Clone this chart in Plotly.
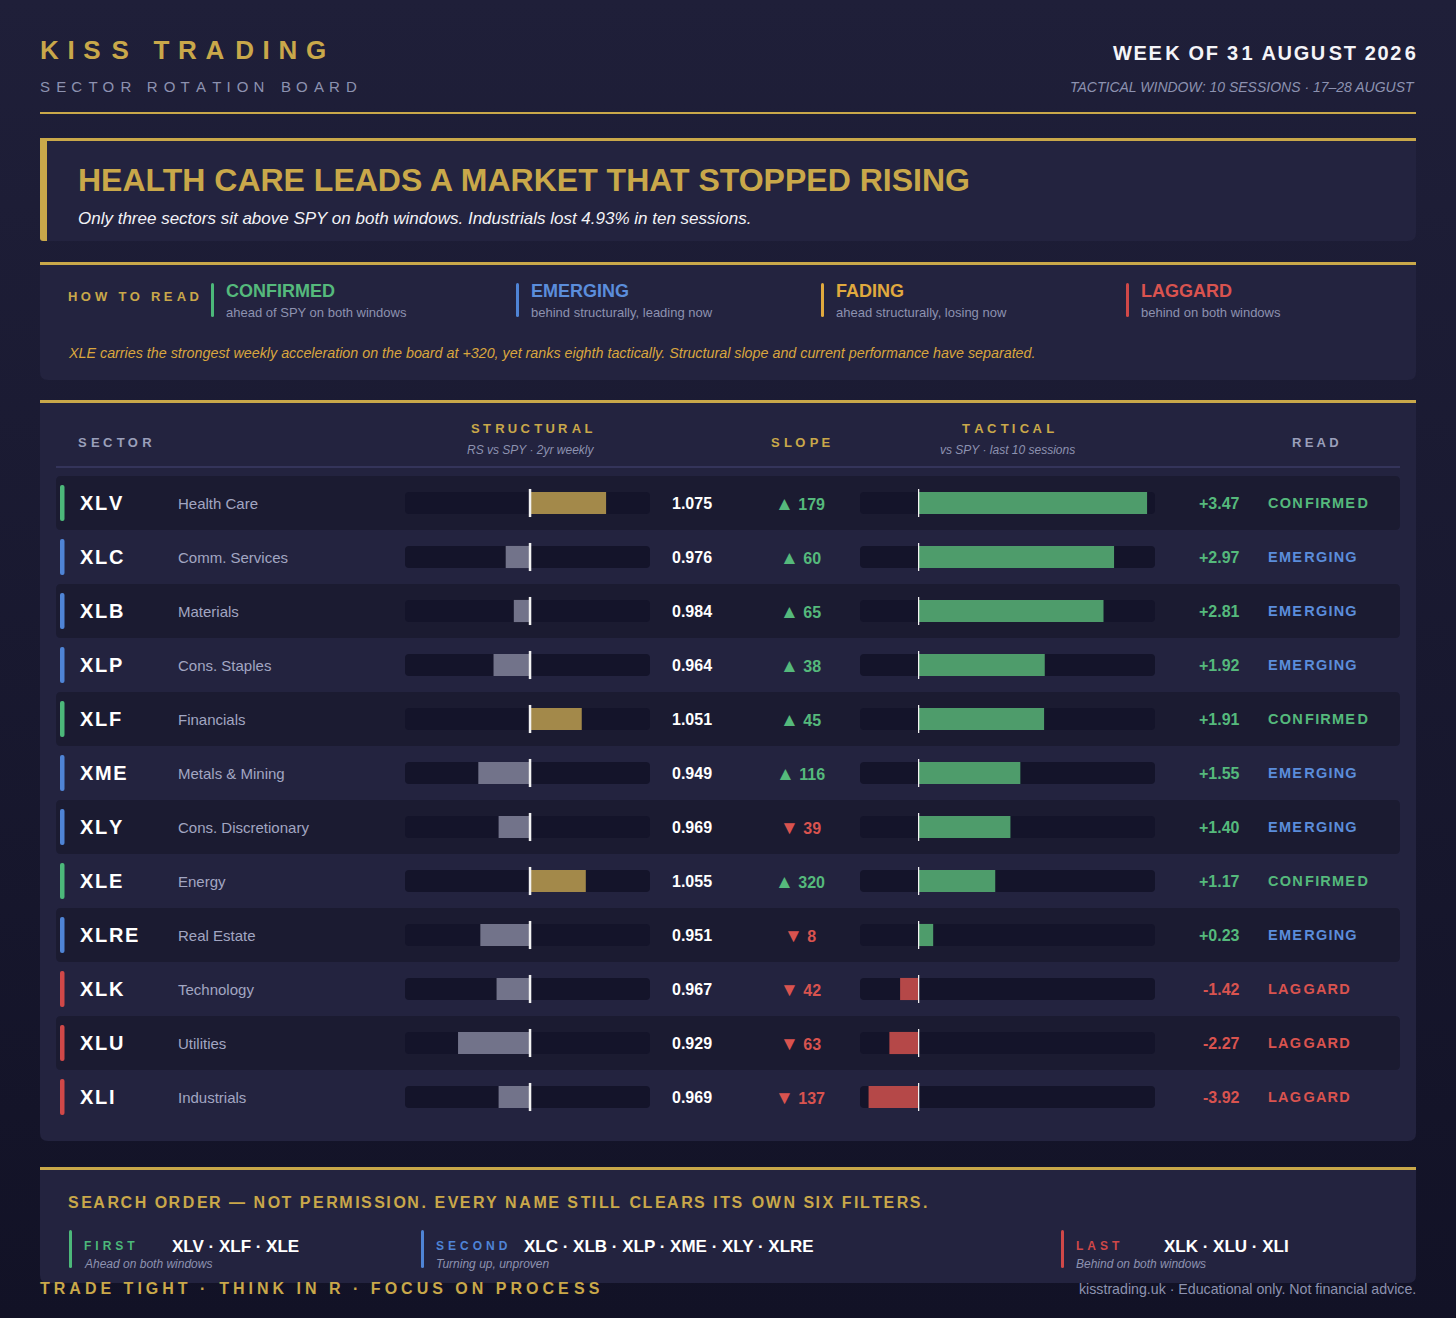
"""
Sector rotation board - KISS Trading
Plotly ile tek sayfalik tablo-grafik
"""

import base64
import plotly.graph_objects as go

# ---- veri ----
tickers = ["XLV", "XLC", "XLB", "XLP", "XLF", "XME", "XLY", "XLE", "XLRE", "XLK", "XLU", "XLI"]
names = ["Health Care", "Comm. Services", "Materials", "Cons. Staples", "Financials",
         "Metals & Mining", "Cons. Discretionary", "Energy", "Real Estate", "Technology",
         "Utilities", "Industrials"]
structural = [1.075, 0.976, 0.984, 0.964, 1.051, 0.949, 0.969, 1.055, 0.951, 0.967, 0.929, 0.969]
slope = [179, 60, 65, 38, 45, 116, -39, 320, -8, -42, -63, -137]
tactical = [3.47, 2.97, 2.81, 1.92, 1.91, 1.55, 1.40, 1.17, 0.23, -1.42, -2.27, -3.92]
reads = ["CONFIRMED", "EMERGING", "EMERGING", "EMERGING", "CONFIRMED", "EMERGING",
         "EMERGING", "CONFIRMED", "EMERGING", "LAGGARD", "LAGGARD", "LAGGARD"]

legend_titles = ["CONFIRMED", "EMERGING", "FADING", "LAGGARD"]
legend_notes = ["ahead of SPY on both windows", "behind structurally, leading now",
                "ahead structurally, losing now", "behind on both windows"]

search_groups = ["FIRST", "SECOND", "LAST"]
search_names = ["XLV · XLF · XLE", "XLC · XLB · XLP · XME · XLY · XLRE", "XLK · XLU · XLI"]
search_notes = ["Ahead on both windows", "Turning up, unproven", "Behind on both windows"]

# ---- stil ----
W, H = 1456, 1318
FONT = "Liberation Sans, Arial, sans-serif"
GOLD = "#c9a84a"
GOLD_BAR = "#a3894a"
PANEL = "#23233f"
ROW_DARK = "#1b1b31"
TRACK = "#14142a"
GREY_TXT = "#8d92b0"
NAME_TXT = "#a2a6c2"
GREY_BAR = "#72738a"
GREEN_BAR = "#4e9c6b"
RED_BAR = "#b54848"
READ_COLORS = {"CONFIRMED": "#55b97c", "EMERGING": "#5b8ddb", "FADING": "#e0a93e", "LAGGARD": "#d9534f"}
ACCENT = {"CONFIRMED": "#4cb87a", "EMERGING": "#4f84d6", "FADING": "#e0a93e", "LAGGARD": "#d04848"}
GROUP_COLORS = ["#4cb87a", "#4f84d6", "#d04848"]

ROW_TOP, ROW_H = 476, 54
HAIR = "\u200a"


def px(x):
    return x / W


def py(y):
    return 1 - y / H


def spaced(s, ls, size):
    # harf araligi: hair space ~ 1/12 em, araliklara dagitilir
    k = ls * 12 / size
    out = s[0]
    for i, ch in enumerate(s[1:]):
        n = round((i + 1) * k) - round(i * k)
        out += HAIR * n + ch
    return out


def rrect(x0, y0, x1, y1, r=(6, 6, 6, 6), color=PANEL, layer="below"):
    tl, tr, br, bl = r
    p = (f"M {px(x0 + tl)},{py(y0)} L {px(x1 - tr)},{py(y0)} "
         f"Q {px(x1)},{py(y0)} {px(x1)},{py(y0 + tr)} L {px(x1)},{py(y1 - br)} "
         f"Q {px(x1)},{py(y1)} {px(x1 - br)},{py(y1)} L {px(x0 + bl)},{py(y1)} "
         f"Q {px(x0)},{py(y1)} {px(x0)},{py(y1 - bl)} L {px(x0)},{py(y0 + tl)} "
         f"Q {px(x0)},{py(y0)} {px(x0 + tl)},{py(y0)} Z")
    return dict(type="path", path=p, xref="paper", yref="paper", fillcolor=color,
                line=dict(width=0), layer=layer)


def txt(x, y, s, size, color, bold=False, italic=False, anchor="left", yref="paper"):
    if bold:
        s = f"<b>{s}</b>"
    if italic:
        s = f"<i>{s}</i>"
    shift = {"left": -2, "right": 2, "center": 0}[anchor]
    return dict(x=px(x + shift), y=py(y) if yref == "paper" else y, xref="paper", yref=yref,
                text=s, showarrow=False, xanchor=anchor, yanchor="middle",
                font=dict(size=size, color=color, family=FONT))


shapes = []
ann = []

# ---- baslik ----
ann.append(txt(40, 50, spaced("KISS TRADING", 9.1, 26), 26, GOLD, bold=True))
ann.append(txt(40, 86, spaced("SECTOR ROTATION BOARD", 5.75, 15), 15, GREY_TXT))
ann.append(txt(1416, 53, spaced("WEEK OF 31 AUGUST 2026", 1.95, 20), 20, "#f4f4f8", bold=True, anchor="right"))
ann.append(txt(1415, 87, "TACTICAL WINDOW: 10 SESSIONS · 17–28 AUGUST", 14, GREY_TXT,
               italic=True, anchor="right"))
shapes.append(rrect(40, 112, 1416, 114, r=(0, 0, 0, 0), color=GOLD))

# ---- manset paneli ----
shapes.append(rrect(40, 138, 1416, 241, r=(4, 0, 8, 4)))
shapes.append(rrect(40, 138, 1416, 141, r=(0, 0, 0, 0), color=GOLD))
shapes.append(rrect(40, 138, 47, 241, r=(3, 0, 0, 3), color=GOLD))
ann.append(txt(78, 180, "HEALTH CARE LEADS A MARKET THAT STOPPED RISING", 32, GOLD, bold=True))
ann.append(txt(78, 218, "Only three sectors sit above SPY on both windows. Industrials lost 4.93% in ten sessions.",
               17, "#f2f2f6", italic=True))

# ---- okuma rehberi ----
shapes.append(rrect(40, 262, 1416, 380, r=(0, 0, 8, 8)))
shapes.append(rrect(40, 262, 1416, 265, r=(0, 0, 0, 0), color=GOLD))
ann.append(txt(68, 297, spaced("HOW TO READ", 3.7, 13), 13, GOLD, bold=True))
for i, (t, n) in enumerate(zip(legend_titles, legend_notes)):
    x0 = 211 + i * 305
    shapes.append(rrect(x0, 283, x0 + 3, 317, r=(1.5, 1.5, 1.5, 1.5), color=ACCENT[t]))
    ann.append(txt(x0 + 15, 291, t, 18, READ_COLORS[t], bold=True))
    ann.append(txt(x0 + 15, 313, n, 13, GREY_TXT))
ann.append(txt(68, 353, "XLE carries the strongest weekly acceleration on the board at +320, yet ranks "
                        "eighth tactically. Structural slope and current performance have separated.",
               14.3, "#d9a63e", italic=True))

# ---- tablo paneli ----
shapes.append(rrect(40, 400, 1416, 1141, r=(0, 0, 8, 8)))
shapes.append(rrect(40, 400, 1416, 403, r=(0, 0, 0, 0), color=GOLD))
ann.append(txt(78, 443, spaced("SECTOR", 3.8, 13), 13, "#9a9fba", bold=True))
ann.append(txt(531, 429, spaced("STRUCTURAL", 3.6, 13), 13, GOLD, bold=True, anchor="center"))
ann.append(txt(530, 450, "RS vs SPY · 2yr weekly", 12, GREY_TXT, italic=True, anchor="center"))
ann.append(txt(801, 443, spaced("SLOPE", 3.85, 13), 13, GOLD, bold=True, anchor="center"))
ann.append(txt(1008, 429, spaced("TACTICAL", 3.8, 13), 13, GOLD, bold=True, anchor="center"))
ann.append(txt(1007, 450, "vs SPY · last 10 sessions", 12, GREY_TXT, italic=True, anchor="center"))
ann.append(txt(1315, 443, spaced("READ", 3.3, 13), 13, "#9a9fba", bold=True, anchor="center"))
shapes.append(rrect(56, 466, 1400, 468, r=(0, 0, 0, 0), color="#34345a"))

for i, tk in enumerate(tickers):
    top = ROW_TOP + i * ROW_H
    mid = top + ROW_H / 2
    if i % 2 == 0:
        shapes.append(rrect(56, top, 1400, top + ROW_H, r=(5, 5, 5, 5), color=ROW_DARK))
    shapes.append(rrect(405, mid - 11, 650, mid + 11, r=(4, 4, 4, 4), color=TRACK))
    shapes.append(rrect(860, mid - 11, 1155, mid + 11, r=(4, 4, 4, 4), color=TRACK))
    shapes.append(rrect(60, mid - 18, 64.5, mid + 18, r=(2, 2, 2, 2), color=ACCENT[reads[i]]))

    ann.append(txt(80, tk, spaced(tk, 1.67, 20), 20, "#ffffff", bold=True, yref="y"))
    ann.append(txt(178, tk, names[i], 15, NAME_TXT, yref="y"))
    ann.append(txt(712, tk, f"{structural[i]:.3f}", 16, "#ffffff", bold=True, anchor="right", yref="y"))
    s_col = READ_COLORS["CONFIRMED"] if slope[i] > 0 else READ_COLORS["LAGGARD"]
    arrow = "▲" if slope[i] > 0 else "▼"
    ann.append(txt(800, tk, f"<span style='font-size:19px'>{arrow}</span> {abs(slope[i])}", 16, s_col,
                   bold=True, anchor="center", yref="y"))
    t_col = READ_COLORS["CONFIRMED"] if tactical[i] > 0 else READ_COLORS["LAGGARD"]
    ann.append(txt(1240, tk, f"{tactical[i]:+.2f}", 16, t_col, bold=True, anchor="right", yref="y"))
    ann.append(txt(1268, tk, spaced(reads[i], 1.45, 14.5), 14.5, READ_COLORS[reads[i]], bold=True, yref="y"))

    # sifir cizgileri (SPY paritesi)
    shapes.append(dict(type="line", xref="x", yref="y", x0=1.0, x1=1.0, y0=i - 0.26, y1=i + 0.26,
                       line=dict(color="#f2f2f2", width=2.5), layer="above"))
    shapes.append(dict(type="line", xref="x3", yref="y", x0=0, x1=0, y0=i - 0.26, y1=i + 0.26,
                       line=dict(color="#f2f2f2", width=2.5), layer="above"))

# ---- arama sirasi ----
shapes.append(rrect(40, 1167, 1416, 1283, r=(0, 0, 8, 8)))
shapes.append(rrect(40, 1167, 1416, 1170, r=(0, 0, 0, 0), color=GOLD))
ann.append(txt(68, 1202, spaced("SEARCH ORDER — NOT PERMISSION. EVERY NAME STILL CLEARS ITS OWN SIX FILTERS.",
                                2.07, 16), 16, GOLD, bold=True))
group_x = [69, 421, 1061]
for gx, g, n, note, c in zip(group_x, search_groups, search_names, search_notes, GROUP_COLORS):
    shapes.append(rrect(gx, 1230, gx + 3, 1268, r=(1.5, 1.5, 1.5, 1.5), color=c))
    ann.append(txt(gx + 15, 1246, spaced(g, 3.9, 12), 12, c, bold=True))
    ann.append(txt(gx + 103, 1246, n, 17, "#ffffff", bold=True))
    ann.append(txt(gx + 15, 1264, note, 12, GREY_TXT, italic=True))

ann.append(txt(40, 1288, spaced("TRADE TIGHT · THINK IN R · FOCUS ON PROCESS", 4.05, 16), 16, GOLD, bold=True))
ann.append(txt(1416, 1289, "kisstrading.uk · Educational only. Not financial advice.", 14.2, GREY_TXT,
               anchor="right"))

# ---- cubuklar ----
fig = go.Figure()

fig.add_trace(go.Bar(
    y=tickers, x=[v - 1.0 for v in structural], base=1.0, orientation="h",
    marker=dict(color=[GOLD_BAR if v > 1 else GREY_BAR for v in structural], line=dict(width=0)),
    width=0.41, xaxis="x", yaxis="y", hoverinfo="skip", showlegend=False
))

neg = [(t, v) for t, v in zip(tickers, tactical) if v < 0]
pos = [(t, v) for t, v in zip(tickers, tactical) if v >= 0]
fig.add_trace(go.Bar(
    y=[t for t, _ in neg], x=[v for _, v in neg], orientation="h",
    marker=dict(color=RED_BAR, line=dict(width=0)), width=0.41,
    xaxis="x2", yaxis="y", hoverinfo="skip", showlegend=False
))
fig.add_trace(go.Bar(
    y=[t for t, _ in pos], x=[v for _, v in pos], orientation="h",
    marker=dict(color=GREEN_BAR, line=dict(width=0)), width=0.41,
    xaxis="x3", yaxis="y", hoverinfo="skip", showlegend=False
))

svg = (f'<svg xmlns="http://www.w3.org/2000/svg" width="{W}" height="{H}">'
       '<defs><linearGradient id="g" x1="0" y1="0" x2="0" y2="1">'
       '<stop offset="0" stop-color="#1f1f39"/><stop offset="1" stop-color="#121226"/>'
       '</linearGradient></defs>'
       f'<rect width="{W}" height="{H}" fill="url(#g)"/></svg>')
bg_src = "data:image/svg+xml;base64," + base64.b64encode(svg.encode()).decode()

hidden = dict(showgrid=False, zeroline=False, showticklabels=False, showline=False, fixedrange=True)
fig.update_layout(
    width=W, height=H,
    margin=dict(l=0, r=0, t=0, b=0),
    paper_bgcolor="#1a1a31",
    plot_bgcolor="rgba(0,0,0,0)",
    barmode="overlay",
    xaxis=dict(domain=[px(405), px(650)], range=[0.8767, 1.1183], anchor="y", **hidden),
    xaxis2=dict(domain=[px(860), px(918)], range=[-4.6, 0], anchor="y", **hidden),
    xaxis3=dict(domain=[px(918), px(1155)], range=[0, 3.59], anchor="y", **hidden),
    yaxis=dict(domain=[py(ROW_TOP + 12 * ROW_H), py(ROW_TOP)], type="category",
               categoryorder="array", categoryarray=tickers, range=[11.5, -0.5], **hidden),
    shapes=shapes,
    annotations=ann,
    images=[dict(source=bg_src, xref="paper", yref="paper", x=0, y=1, sizex=1, sizey=1,
                 sizing="stretch", xanchor="left", yanchor="top", layer="below")],
)

fig.write_html("out.html", config={"displayModeBar": False},
               post_script="document.body.style.margin='0';")
